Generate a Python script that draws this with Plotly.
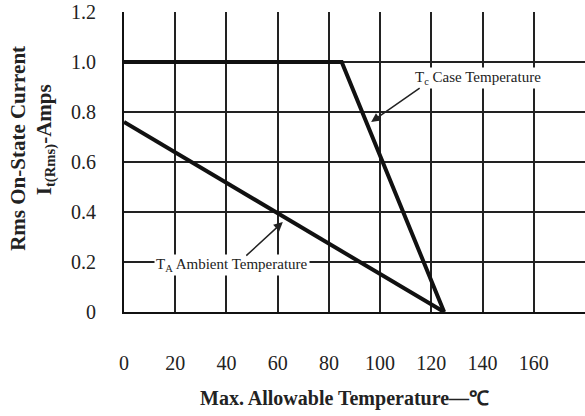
import plotly.graph_objects as go

# Data
tc_temp = [0, 85, 125]
tc_current = [1.0, 1.0, 0.0]
ta_temp = [0, 125]
ta_current = [0.76, 0.0]
x_ticks = [0, 20, 40, 60, 80, 100, 120, 140, 160]
y_ticks = [0, 0.2, 0.4, 0.6, 0.8, 1.0, 1.2]
y_tick_text = ["0", "0.2", "0.4", "0.6", "0.8", "1.0", "1.2"]

SERIF = "Liberation Serif, Times New Roman, serif"
TXT = "#222222"

fig = go.Figure()
fig.add_trace(go.Scatter(x=tc_temp, y=tc_current, mode="lines",
                         line=dict(color="#111111", width=4), showlegend=False))
fig.add_trace(go.Scatter(x=ta_temp, y=ta_current, mode="lines",
                         line=dict(color="#111111", width=4), showlegend=False))

fig.update_layout(
    width=585, height=416,
    margin=dict(l=124, r=0, t=12, b=104, autoexpand=False),
    paper_bgcolor="white", plot_bgcolor="white",
    font=dict(family=SERIF, color=TXT),
    showlegend=False,
)
fig.update_xaxes(range=[0, 180], tickvals=x_ticks, ticktext=[str(v) for v in x_ticks],
                 showgrid=True, gridcolor="#222222", gridwidth=1.5,
                 showline=True, linecolor="#111111", linewidth=2,
                 zeroline=False, ticks="", ticklabelstandoff=32, automargin=False,
                 tickfont=dict(family=SERIF, size=20, color=TXT))
fig.update_yaxes(range=[0, 1.2], tickvals=y_ticks, ticktext=y_tick_text,
                 showgrid=True, gridcolor="#222222", gridwidth=1.5,
                 showline=True, linecolor="#111111", linewidth=2,
                 zeroline=False, ticks="", ticklabelstandoff=22, automargin=False,
                 tickfont=dict(family=SERIF, size=20, color=TXT))

# Axis titles
fig.add_annotation(text="<b>Max. Allowable Temperature—℃</b>", xref="paper", yref="paper",
                   x=0.479, y=-0.287, xanchor="center", yanchor="middle", showarrow=False,
                   font=dict(family=SERIF, size=20, color=TXT))
fig.add_annotation(text="<b>Rms On-State Current</b>", xref="paper", yref="paper",
                   x=-0.23, y=0.547, xanchor="center", yanchor="middle",
                   showarrow=False, textangle=-90,
                   font=dict(family=SERIF, size=21, color=TXT))
fig.add_annotation(text="<b>I<sub>t(Rms)</sub>-Amps</b>", xref="paper", yref="paper",
                   x=-0.171, y=0.573, xanchor="center", yanchor="middle",
                   showarrow=False, textangle=-90,
                   font=dict(family=SERIF, size=21, color=TXT))

# Curve labels
fig.add_annotation(text="T<sub>c</sub> Case Temperature", x=138.2, y=0.936,
                   xanchor="center", yanchor="middle",
                   showarrow=False, bgcolor="white",
                   font=dict(family=SERIF, size=15, color=TXT))
fig.add_annotation(x=96.5, y=0.76, ax=50, ay=-35, text="", showarrow=True,
                   arrowhead=2, arrowsize=1.2, arrowwidth=1.5, arrowcolor="#222222")
fig.add_annotation(text="T<sub>A</sub> Ambient Temperature", x=42.2, y=0.188,
                   xanchor="center", yanchor="middle",
                   showarrow=False, bgcolor="white",
                   font=dict(family=SERIF, size=15, color=TXT))
fig.add_annotation(x=62, y=0.36, ax=-38, ay=35, text="", showarrow=True,
                   arrowhead=2, arrowsize=1.2, arrowwidth=1.5, arrowcolor="#222222")

fig.write_html("out.html", config={"displayModeBar": False},
               post_script="document.body.style.margin='0';")
